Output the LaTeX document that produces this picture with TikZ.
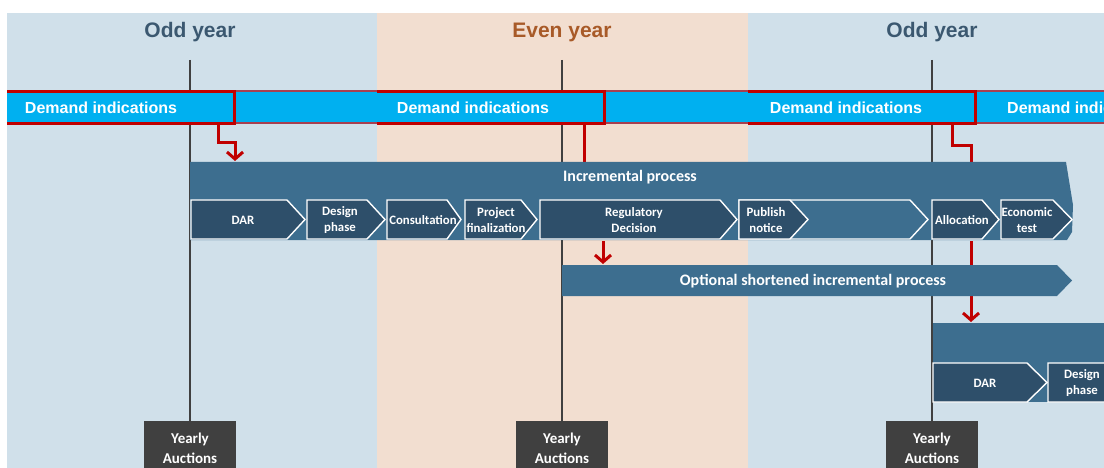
\documentclass[tikz,border=0pt]{standalone}
\usepackage{fontspec}
\setmainfont{Carlito}
\newfontfamily\arialf{Liberation Sans}
\usetikzlibrary{arrows.meta}
\definecolor{bgblue}{HTML}{D0E0EA}
\definecolor{bgpeach}{HTML}{F2DED0}
\definecolor{cyanbar}{HTML}{00B0F0}
\definecolor{procbar}{HTML}{3D6E8F}
\definecolor{chevc}{HTML}{2E4F6A}
\definecolor{titlec}{HTML}{3B5870}
\definecolor{evenc}{HTML}{A85A28}
\definecolor{redc}{HTML}{C00000}
\definecolor{linec}{HTML}{404040}
\definecolor{shadowc}{HTML}{A84050}
\newcommand\mychev[6]{\path[#6] (#1,#4) -- (#2,#4) -- (#3,{(#4+#5)/2}) -- (#2,#5) -- (#1,#5) -- cycle;}
\begin{document}
\begin{tikzpicture}[x=1pt,y=-1pt,
  yeartitle/.style={font=\arialf\bfseries\fontsize{21}{25}\selectfont, text=titlec, inner sep=0pt},
  demand/.style={font=\arialf\bfseries\fontsize{16}{19}\selectfont, text=white, inner sep=0pt},
  bartext/.style={font=\bfseries\fontsize{16}{19}\selectfont, text=white, inner sep=0pt},
  chevlbl/.style={font=\bfseries\fontsize{12.8}{15.8}\selectfont, text=white, align=center, inner sep=0pt},
  chevshape/.style={fill=chevc, draw=white, line width=1.4pt},
  chevopen/.style={fill=procbar, draw=white, line width=1.4pt},
  yearline/.style={draw=linec, line width=2.6pt},
  redframe/.style={draw=redc, line width=3pt},
  redconn/.style={draw=redc, line width=3pt},
  redarrow/.style={draw=redc, line width=3pt, -{Straight Barb[length=7pt,width=16pt]}},
  auction/.style={fill=linec, text=white, minimum width=92pt, minimum height=54pt, anchor=north, font=\bfseries\fontsize{15}{20}\selectfont, align=center, inner sep=0pt},
]
\clip (0,0) rectangle (1104,468);
\fill[white] (0,0) rectangle (1104,468);
% backgrounds
\fill[bgblue] (7,13) rectangle (377,468);
\fill[bgpeach] (377,13) rectangle (748,468);
\fill[bgblue] (748,13) rectangle (1104,468);
% titles
\node[yeartitle] (t1) at (190,32.5) {Odd year};
\node[yeartitle, text=evenc] (t2) at (562,32.5) {Even year};
\node[yeartitle] (t3) at (932,32.5) {Odd year};
% yearly auctions
\node[auction] (auc1) at (190,421) {Yearly\\Auctions};
\node[auction] (auc2) at (562,421) {Yearly\\Auctions};
\node[auction] (auc3) at (932,421) {Yearly\\Auctions};
% year lines
\coordinate (l1) at (190,60);
\coordinate (l2) at (562,60);
\coordinate (l3) at (932,60);
\draw[yearline] (l1) -- (auc1.north);
\draw[yearline] (l2) -- (auc2.north);
\draw[yearline] (l3) -- (auc3.north);
% demand bar
\fill[cyanbar] (7,91) rectangle (1104,123);
\draw[shadowc, line width=1.6pt] (7,91) -- (1104,91) (7,123) -- (1104,123);
\node[demand] (d1) at (101,108) {Demand indications};
\node[demand] (d2) at (473,108) {Demand indications};
\node[demand] (d3) at (846,108) {Demand indications};
\node[demand, anchor=west] (d4) at (1007,108) {Demand indications};
% red frames
\draw[redframe] (7,91.5) -- (234,91.5) -- (234,123.5) -- (7,123.5);
\draw[redframe] (377,91.5) -- (604,91.5) -- (604,123.5) -- (377,123.5);
\draw[redframe] (748,91.5) -- (975,91.5) -- (975,123.5) -- (748,123.5);
% red connectors from demand boxes
\coordinate (r1a) at (218,125);
\coordinate (r1b) at (218,143);
\coordinate (r1c) at (235,143);
\coordinate (r1d) at (235,161);
\draw[redarrow] (r1a) -- (r1b) -- (r1c) -- (r1d);
\coordinate (r2a) at (584,125);
\coordinate (r2b) at (584,163);
\draw[redconn] (r2a) -- (r2b);
\coordinate (r3a) at (952,125);
\coordinate (r3b) at (952,146);
\coordinate (r3c) at (971,146);
\coordinate (r3d) at (971,163);
\draw[redconn] (r3a) -- (r3b) -- (r3c) -- (r3d);
% arrow from allocation (behind optional bar)
\coordinate (r5a) at (971,241);
\coordinate (r5b) at (971,322);
\draw[redarrow] (r5a) -- (r5b);
% incremental process bar
\fill[procbar] (190,162) -- (1066,162) -- (1073,205) -- (1072,232) -- (1067,240) -- (190,240) -- cycle;
\node[bartext] (incr) at (630,177) {Incremental process};
% chevrons
\mychev{191}{287}{305}{200}{239}{chevshape}
\mychev{307}{367}{385}{200}{239}{chevshape}
\mychev{387}{447}{461}{200}{239}{chevshape}
\mychev{465}{521}{537}{200}{239}{chevshape}
\mychev{540}{720}{737}{200}{239}{chevshape}
\mychev{739}{910}{928}{200}{239}{chevopen}
\mychev{739}{790}{808}{200}{239}{chevshape}
\mychev{932}{982}{999}{200}{239}{chevshape}
\mychev{1001}{1053}{1072}{200}{239}{chevshape}
\node[chevlbl] (c1) at (243,220) {DAR};
\node[chevlbl] (c2) at (340,220) {Design\\phase};
\node[chevlbl] (c3) at (423,220) {Consultation};
\node[chevlbl] (c4) at (496,220) {Project\\finalization};
\node[chevlbl] (c5) at (634,220) {Regulatory\\Decision};
\node[chevlbl] (c6) at (766,220) {Publish\\notice};
\node[chevlbl] (c7) at (962,220) {Allocation};
\node[chevlbl] (c8) at (1027,220) {Economic\\test};
% arrow from regulatory decision
\coordinate (r4a) at (603,241);
\coordinate (r4b) at (603,264);
\draw[redarrow] (r4a) -- (r4b);
% optional shortened bar
\fill[procbar] (562,265) -- (1057,265) -- (1072,280.5) -- (1057,296) -- (562,296) -- cycle;
\node[bartext] (opt) at (813,281.5) {Optional shortened incremental process};
% bottom-right process
\fill[procbar] (933,323) rectangle (1110,402);
\mychev{933}{1027}{1047}{363}{402}{chevshape}
\mychev{1048}{1130}{1148}{363}{402}{chevshape}
\node[chevlbl] (c9) at (985,383) {DAR};
\node[chevlbl] (c10) at (1082,383) {Design\\phase};
\end{tikzpicture}
\end{document}
